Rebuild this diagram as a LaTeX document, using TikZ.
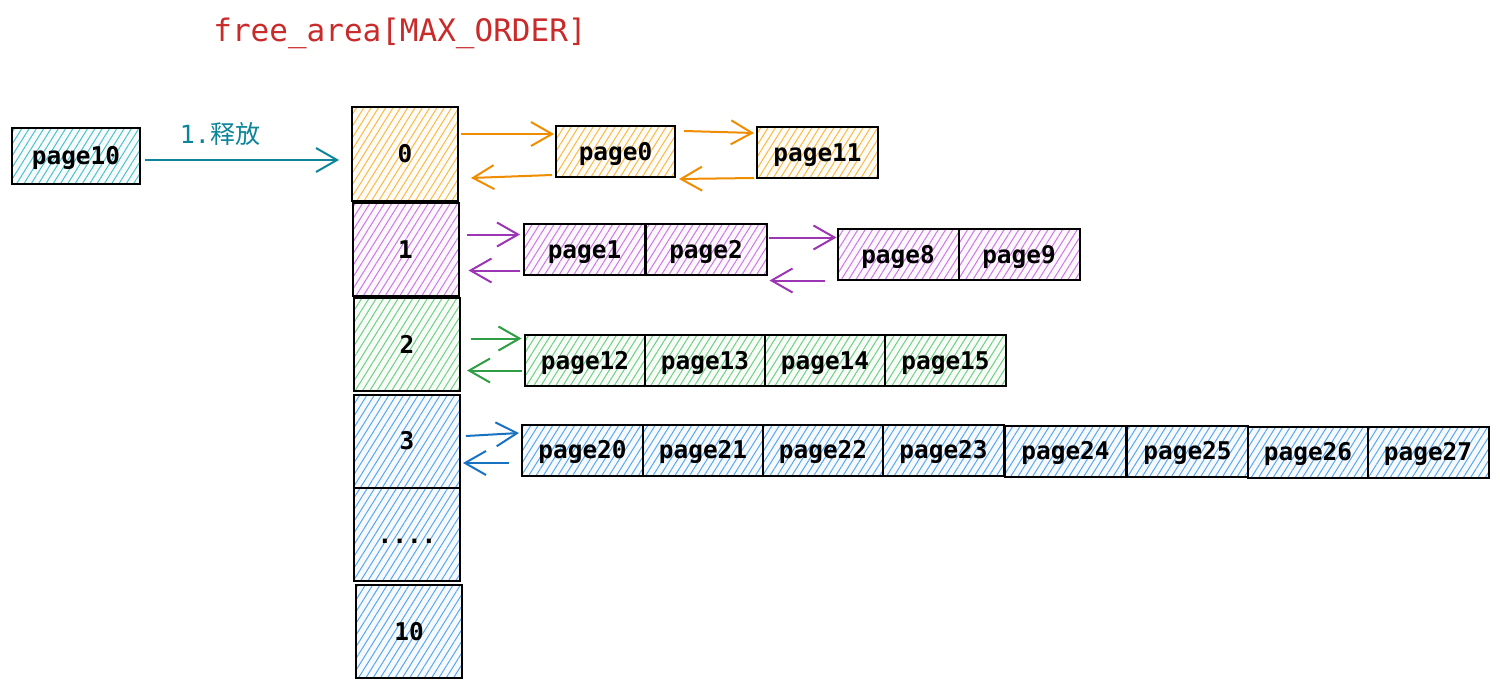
\documentclass[tikz,border=0pt]{standalone}
\usepackage{fontspec}
\newfontfamily\monof{DejaVu Sans Mono}
\newfontfamily\cjk{Noto Sans CJK SC}
\usetikzlibrary{patterns.meta,arrows.meta,calc}
\definecolor{cO}{HTML}{F5A30F}
\definecolor{cOa}{HTML}{F08C00}
\definecolor{cP}{HTML}{BE4BDB}
\definecolor{cPa}{HTML}{9C36B5}
\definecolor{cG}{HTML}{40C057}
\definecolor{cGa}{HTML}{2F9E44}
\definecolor{cB}{HTML}{228BE6}
\definecolor{cBa}{HTML}{1971C2}
\definecolor{cC}{HTML}{15AABF}
\definecolor{cT}{HTML}{0C8599}
\definecolor{cR}{HTML}{C92A2A}
\tikzset{
  cell/.style={draw=black, line width=1pt, inner sep=0pt, text=black,
    text height=8.6pt, text depth=0pt,
    font=\monof\bfseries\fontsize{12.2}{14}\selectfont},
  hatch/.style={preaction={fill=#1!4},
    pattern={Lines[angle=58,distance=3.1pt,line width=0.5pt]}, pattern color=#1!75},
  order/.style={cell, minimum width=53pt, minimum height=46.5pt},
  pg/.style={cell, minimum width=60.5pt, minimum height=25.5pt},
  arr/.style={draw=#1, line width=1pt, -{Straight Barb[length=10.5pt,width=12pt]}},
}
\begin{document}
\begin{tikzpicture}[x=0.5pt,y=-0.5pt]
\useasboundingbox (0,0) rectangle (1500,690);

\node[text=cR, font=\monof\fontsize{15.5}{18}\selectfont] (title) at (400,33) {free\_area[MAX\_ORDER]};

% page10 and release arrow
\node[pg, hatch=cC, minimum width=64pt, minimum height=28pt] (pg10) at (76,156) {page10};
\node[text=cT, font=\monof\fontsize{12.5}{14}\selectfont] (lbl) at (220,134) {1.{\cjk 释放}};

% order column
\node[order, hatch=cO] (o0) at (405,154) {0};
\node[order, hatch=cP] (o1) at (405.5,249.5) {1};
\node[order, hatch=cG] (o2) at (407,344.5) {2};
\node[order, hatch=cB] (o3) at (407,441) {3};
\node[order, hatch=cB] (od) at (407,534.5) {....};
\node[order, hatch=cB] (o10) at (409,631.5) {10};

\draw[arr=cT] ($(pg10.east)+(4,4)$) -- ($(o0.west)+(-12,6)$);

% row 0
\node[pg, hatch=cO, minimum width=59.5pt] (p0) at (615.5,152) {page0};
\node[pg, hatch=cO] (p11) at (817.5,153) {page11};
\draw[arr=cOa] ($(o0.east)+(2,-20)$) -- ($(p0.west)+(-1,-18)$);
\draw[arr=cOa] ($(p0.west)+(-3,23)$) -- ($(o0.east)+(12,24)$);
\draw[arr=cOa] ($(p0.east)+(8,-21)$) -- ($(p11.west)+(-2,-20)$);
\draw[arr=cOa] ($(p11.west)+(-2,25)$) -- ($(p0.east)+(3,27)$);

% row 1
\node[pg, hatch=cP] (p1) at (584.5,249.5) {page1};
\node[pg, hatch=cP] (p2) at (706,249.5) {page2};
\node[pg, hatch=cP] (p8) at (898,254.5) {page8};
\node[pg, hatch=cP] (p9) at (1019,254.5) {page9};
\draw[arr=cPa] ($(o1.east)+(7,-15)$) -- ($(p1.west)+(-3,-15)$);
\draw[arr=cPa] ($(p1.west)+(-3,21)$) -- ($(o1.east)+(9,21)$);
\draw[arr=cPa] ($(p2.east)+(1,-12)$) -- ($(p8.west)+(0,-17)$);
\draw[arr=cPa] ($(p8.west)+(-12,26)$) -- ($(p2.east)+(2,31)$);

% row 2
\node[pg, hatch=cG] (p12) at (585,360.5) {page12};
\node[pg, hatch=cG] (p13) at (705,360.5) {page13};
\node[pg, hatch=cG] (p14) at (825,360.5) {page14};
\node[pg, hatch=cG] (p15) at (945.5,360.5) {page15};
\draw[arr=cGa] ($(o2.east)+(10,-6)$) -- ($(p12.west)+(-2,-22)$);
\draw[arr=cGa] ($(p12.west)+(-2,10)$) -- ($(o2.east)+(6,26)$);

% row 3
\node[pg, hatch=cB] (p20) at (582.5,450) {page20};
\node[pg, hatch=cB] (p21) at (703,450) {page21};
\node[pg, hatch=cB] (p22) at (823,450) {page22};
\node[pg, hatch=cB] (p23) at (943.5,450) {page23};
\node[pg, hatch=cB] (p24) at (1065.5,451) {page24};
\node[pg, hatch=cB] (p25) at (1187.5,451) {page25};
\node[pg, hatch=cB] (p26) at (1308,452) {page26};
\node[pg, hatch=cB] (p27) at (1428,452) {page27};
\draw[arr=cBa] ($(o3.east)+(5,-5)$) -- ($(p20.west)+(-2,-17)$);
\draw[arr=cBa] ($(p20.west)+(-12,13)$) -- ($(o3.east)+(2,22)$);
\end{tikzpicture}
\end{document}
